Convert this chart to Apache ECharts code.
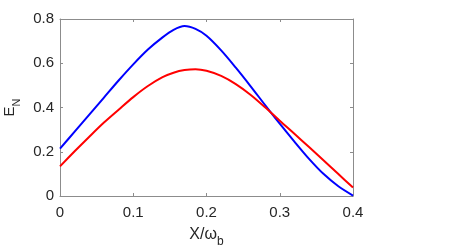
<!DOCTYPE html>
<html>
<head>
<meta charset="utf-8">
<script src="https://cdn.jsdelivr.net/npm/echarts@6/dist/echarts.min.js"></script>
<style>html,body{margin:0;padding:0;background:#fff;}#c{width:463px;height:252px;}</style>
</head>
<body>
<div id="c"></div>
<script>
const xValues = [0, 0.02, 0.04, 0.06, 0.08, 0.10, 0.12, 0.14, 0.155, 0.17, 0.185, 0.20, 0.22, 0.24, 0.26, 0.28, 0.30, 0.32, 0.34, 0.36, 0.38, 0.40];
const blueValues = [0.214, 0.291, 0.368, 0.445, 0.522, 0.595, 0.662, 0.717, 0.751, 0.768, 0.755, 0.724, 0.658, 0.580, 0.497, 0.411, 0.327, 0.246, 0.168, 0.099, 0.044, 0.002];
const redValues  = [0.134, 0.202, 0.268, 0.332, 0.390, 0.447, 0.497, 0.537, 0.557, 0.569, 0.573, 0.566, 0.543, 0.506, 0.458, 0.401, 0.340, 0.281, 0.221, 0.160, 0.099, 0.038];
const xTicks = [0, 0.1, 0.2, 0.3, 0.4];
const yTicks = [0, 0.2, 0.4, 0.6, 0.8];

const font = 'Liberation Sans, Arial, Helvetica, sans-serif';
const txt = '#262626';
const axisCol = '#8c8c8c';
const pair = (xs, ys) => xs.map((x, i) => [x, ys[i]]);

const chart = echarts.init(document.getElementById('c'), null, {renderer: 'canvas'});
const baseX = {
  type: 'value', min: 0, max: 0.4, interval: 0.1,
  axisLine: {show: true, onZero: false, lineStyle: {color: axisCol, width: 1}},
  axisTick: {show: true, inside: true, length: 3, lineStyle: {color: axisCol}},
  splitLine: {show: false}
};
const baseY = {
  type: 'value', min: 0, max: 0.8, interval: 0.2,
  axisLine: {show: true, onZero: false, lineStyle: {color: axisCol, width: 1}},
  axisTick: {show: true, inside: true, length: 3, lineStyle: {color: axisCol}},
  splitLine: {show: false}
};
chart.setOption({
  animation: false,
  backgroundColor: '#fff',
  grid: {left: 60, right: 110, top: 19, bottom: 56, containLabel: false, outerBoundsMode: 'none'},
  xAxis: [
    Object.assign({}, baseX, {
      position: 'bottom',
      axisLabel: {show: true, color: txt, fontSize: 15, fontFamily: font, margin: 9,
        formatter: v => { const t = xTicks.find(k => Math.abs(k - v) < 1e-9); return t === undefined ? '' : String(t); }},
      name: '{m|X/ω}{s|b}', nameLocation: 'middle', nameGap: 29,
      nameTextStyle: {rich: {
        m: {fontSize: 16, color: txt, fontFamily: font, verticalAlign: 'bottom', lineHeight: 18},
        s: {fontSize: 12, color: txt, fontFamily: font, verticalAlign: 'bottom', lineHeight: 10, padding: [0,0,-5,0]}
      }}
    }),
    Object.assign({}, baseX, {position: 'top', axisLabel: {show: false}})
  ],
  yAxis: [
    Object.assign({}, baseY, {
      position: 'left',
      axisLabel: {show: true, color: txt, fontSize: 15, fontFamily: font, margin: 6,
        formatter: v => { const t = yTicks.find(k => Math.abs(k - v) < 1e-9); return t === undefined ? '' : String(t); }},
      name: '{m|E}{s|N}', nameLocation: 'middle', nameGap: 43,
      nameTextStyle: {rich: {
        m: {fontSize: 15, color: txt, fontFamily: font, verticalAlign: 'bottom', lineHeight: 18},
        s: {fontSize: 11, color: txt, fontFamily: font, verticalAlign: 'bottom', lineHeight: 10, padding: [0,0,-5,0]}
      }}
    }),
    Object.assign({}, baseY, {position: 'right', axisLabel: {show: false}})
  ],
  series: [
    {type: 'line', xAxisIndex: 0, yAxisIndex: 0, data: pair(xValues, blueValues), smooth: 0.3, showSymbol: false,
     lineStyle: {color: '#0000ff', width: 2}, z: 2},
    {type: 'line', xAxisIndex: 0, yAxisIndex: 0, data: pair(xValues, redValues), smooth: 0.3, showSymbol: false,
     lineStyle: {color: '#ff0000', width: 2}, z: 3}
  ]
});
</script>
</body>
</html>
